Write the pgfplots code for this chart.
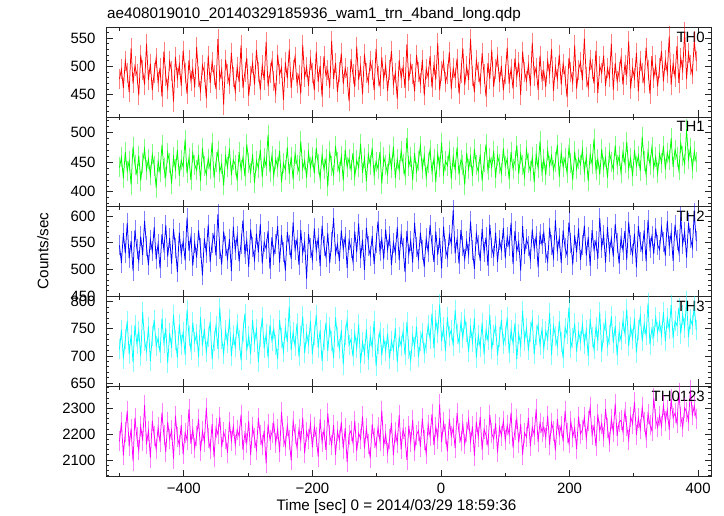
\documentclass[border=0pt]{standalone}
\usepackage{fontspec}
\setmainfont{Liberation Sans}
\usepackage{pgfplots}
\usepackage{pgfplotstable}
\pgfplotsset{compat=1.18}
\definecolor{czero}{rgb}{1,0,0}
\definecolor{cone}{rgb}{0,1,0}
\definecolor{ctwo}{rgb}{0,0,1}
\definecolor{cthree}{rgb}{0,1,1}
\definecolor{call}{rgb}{1,0,1}

\pgfplotstableread[row sep=\\]{y\\
478\\495\\462\\510\\488\\455\\532\\470\\501\\486\\449\\520\\493\\468\\540\\476\\505\\458\\489\\515\\
472\\498\\447\\526\\483\\461\\509\\492\\438\\517\\480\\503\\466\\528\\489\\452\\511\\475\\496\\463\\
534\\481\\457\\502\\490\\444\\519\\471\\508\\485\\460\\548\\477\\495\\433\\512\\487\\469\\524\\481\\
456\\499\\473\\537\\462\\490\\515\\448\\483\\506\\468\\529\\491\\459\\502\\476\\543\\465\\488\\510\\
474\\453\\521\\486\\498\\441\\507\\479\\530\\462\\494\\517\\470\\485\\452\\538\\481\\499\\466\\512\\
489\\458\\526\\473\\501\\447\\518\\484\\493\\462\\545\\478\\506\\455\\490\\523\\469\\497\\481\\439\\
513\\487\\464\\535\\476\\500\\451\\522\\488\\471\\509\\494\\459\\531\\483\\466\\516\\478\\502\\457\\
494\\527\\468\\489\\443\\511\\480\\499\\462\\539\\475\\505\\487\\456\\520\\491\\470\\512\\449\\496\\
481\\518\\463\\503\\477\\541\\458\\492\\509\\472\\486\\525\\460\\497\\480\\514\\452\\489\\532\\467\\
500\\476\\548\\483\\455\\511\\490\\469\\523\\486\\447\\506\\478\\529\\464\\495\\517\\473\\501\\458\\
487\\533\\470\\496\\461\\514\\482\\507\\450\\526\\491\\475\\503\\466\\542\\484\\498\\459\\519\\477\\
492\\464\\510\\486\\531\\457\\499\\478\\521\\468\\505\\483\\446\\515\\490\\472\\537\\461\\494\\508\\
476\\549\\482\\463\\512\\495\\470\\528\\453\\501\\488\\519\\466\\497\\481\\540\\459\\506\\474\\491\\
515\\468\\503\\485\\544\\461\\497\\479\\524\\456\\510\\489\\471\\533\\494\\452\\518\\480\\502\\465\\
498\\527\\474\\511\\489\\553\\468\\505\\482\\536\\471\\515\\493\\561\\478\\524\\502\\486\\545\\510\\
}\thzero

\pgfplotstableread[row sep=\\]{y\\
441\\458\\423\\467\\435\\452\\412\\476\\446\\430\\461\\419\\449\\472\\437\\455\\428\\463\\444\\407\\
451\\433\\479\\440\\425\\466\\448\\414\\459\\438\\470\\427\\453\\442\\488\\431\\457\\420\\465\\446\\
436\\462\\418\\474\\443\\429\\456\\439\\483\\424\\450\\468\\434\\447\\411\\460\\441\\473\\428\\454\\
445\\419\\467\\437\\458\\426\\480\\449\\432\\463\\415\\452\\440\\471\\425\\457\\443\\496\\433\\461\\
427\\455\\442\\469\\416\\448\\437\\475\\430\\459\\421\\464\\446\\435\\485\\439\\453\\424\\466\\441\\
458\\431\\474\\447\\422\\462\\438\\455\\409\\468\\444\\429\\477\\450\\434\\460\\419\\471\\442\\456\\
437\\465\\426\\453\\441\\481\\432\\457\\418\\463\\446\\474\\428\\451\\439\\467\\414\\458\\445\\430\\
462\\440\\476\\423\\455\\436\\469\\447\\428\\491\\443\\458\\420\\465\\434\\452\\478\\438\\461\\425\\
449\\471\\433\\456\\417\\464\\441\\483\\430\\452\\444\\468\\422\\459\\437\\475\\429\\454\\446\\412\\
466\\438\\459\\427\\472\\445\\434\\463\\419\\450\\480\\436\\457\\441\\469\\424\\461\\447\\431\\473\\
443\\456\\421\\467\\439\\452\\478\\430\\464\\445\\426\\471\\448\\435\\458\\416\\463\\440\\485\\433\\
455\\428\\470\\444\\461\\437\\451\\479\\425\\466\\442\\457\\432\\474\\449\\420\\468\\438\\456\\446\\
471\\434\\459\\418\\463\\447\\489\\436\\455\\429\\472\\441\\458\\424\\466\\451\\437\\478\\445\\460\\
432\\467\\448\\484\\439\\457\\426\\470\\444\\461\\435\\493\\452\\429\\468\\446\\475\\440\\459\\431\\
464\\449\\477\\438\\466\\453\\490\\442\\471\\458\\436\\482\\461\\447\\505\\455\\473\\439\\468\\450\\
}\thone

\pgfplotstableread[row sep=\\]{y\\
545\\512\\568\\530\\587\\521\\553\\498\\574\\539\\516\\562\\527\\591\\543\\508\\556\\534\\579\\519\\
548\\502\\566\\537\\583\\524\\559\\511\\576\\541\\495\\569\\528\\553\\517\\597\\535\\561\\507\\550\\
522\\573\\540\\489\\558\\531\\584\\514\\549\\566\\526\\603\\538\\509\\571\\544\\520\\557\\497\\580\\
536\\563\\515\\548\\592\\529\\554\\505\\575\\542\\518\\567\\532\\585\\511\\551\\539\\572\\501\\560\\
527\\547\\581\\513\\564\\533\\498\\570\\545\\520\\588\\537\\556\\509\\574\\530\\552\\483\\566\\541\\
518\\577\\535\\559\\506\\582\\543\\524\\568\\512\\551\\596\\529\\547\\516\\573\\538\\561\\503\\555\\
540\\515\\571\\532\\586\\521\\556\\499\\578\\544\\526\\563\\510\\549\\590\\534\\557\\519\\575\\537\\
562\\508\\550\\531\\579\\517\\566\\540\\495\\572\\528\\554\\513\\587\\542\\520\\569\\536\\505\\558\\
533\\583\\546\\514\\571\\527\\559\\502\\580\\539\\523\\565\\548\\611\\530\\557\\511\\574\\543\\519\\
553\\528\\590\\537\\501\\567\\545\\516\\576\\532\\560\\507\\584\\541\\525\\569\\514\\555\\536\\578\\
521\\561\\543\\587\\510\\572\\534\\551\\498\\581\\529\\557\\544\\519\\575\\538\\562\\504\\566\\547\\
569\\531\\515\\578\\546\\523\\592\\535\\559\\512\\573\\540\\527\\588\\550\\509\\564\\532\\577\\518\\
545\\582\\526\\561\\507\\574\\537\\553\\520\\596\\541\\565\\513\\579\\533\\558\\524\\585\\549\\511\\
559\\536\\572\\518\\589\\545\\528\\567\\504\\581\\551\\534\\573\\515\\593\\540\\562\\529\\577\\546\\
537\\579\\552\\526\\591\\543\\568\\516\\584\\555\\532\\598\\547\\571\\522\\587\\559\\541\\606\\553\\
}\thtwo

\pgfplotstableread[row sep=\\]{y\\
712\\748\\695\\731\\764\\703\\739\\688\\757\\722\\746\\699\\781\\728\\709\\754\\691\\736\\767\\718\\
733\\706\\769\\724\\751\\687\\742\\715\\776\\729\\697\\758\\721\\744\\702\\785\\737\\711\\762\\726\\
741\\698\\772\\719\\750\\707\\735\\763\\694\\727\\756\\713\\789\\732\\704\\747\\723\\768\\700\\738\\
716\\759\\730\\692\\745\\778\\710\\737\\703\\766\\725\\749\\689\\734\\771\\714\\740\\697\\757\\728\\
749\\721\\694\\766\\733\\708\\752\\726\\791\\711\\744\\718\\760\\699\\736\\773\\705\\741\\722\\764\\
703\\738\\775\\715\\747\\690\\729\\761\\709\\753\\727\\696\\771\\735\\712\\748\\684\\739\\766\\720\\
731\\699\\742\\714\\758\\687\\726\\704\\749\\693\\736\\716\\764\\681\\722\\745\\701\\733\\709\\741\\
695\\728\\711\\751\\688\\734\\719\\745\\702\\762\\712\\691\\737\\716\\754\\698\\727\\743\\706\\724\\
757\\731\\778\\714\\766\\742\\795\\727\\753\\709\\771\\736\\748\\719\\784\\741\\724\\762\\733\\769\\
744\\708\\752\\725\\769\\697\\738\\716\\761\\703\\747\\729\\776\\712\\739\\755\\701\\734\\767\\722\\
736\\771\\705\\748\\723\\760\\694\\741\\717\\783\\728\\751\\710\\745\\766\\703\\739\\757\\720\\749\\
713\\746\\730\\779\\702\\755\\737\\718\\764\\726\\696\\752\\741\\789\\715\\733\\760\\708\\744\\727\\
758\\722\\747\\699\\768\\735\\712\\753\\728\\781\\707\\742\\765\\719\\738\\773\\724\\756\\701\\745\\
729\\765\\741\\786\\718\\754\\732\\769\\706\\748\\774\\727\\759\\738\\797\\721\\750\\736\\771\\744\\
762\\738\\781\\727\\770\\749\\794\\733\\764\\756\\789\\741\\776\\752\\801\\735\\768\\757\\792\\748\\
}\ththree

\pgfplotstableread[row sep=\\]{y\\
2172\\2245\\2118\\2207\\2290\\2153\\2221\\2096\\2264\\2188\\2137\\2231\\2175\\2312\\2160\\2214\\2109\\2252\\2193\\2142\\
2226\\2168\\2283\\2197\\2131\\2248\\2180\\2215\\2104\\2271\\2189\\2157\\2236\\2122\\2205\\2178\\2297\\2163\\2219\\2145\\
2194\\2258\\2135\\2212\\2171\\2302\\2186\\2143\\2239\\2110\\2224\\2199\\2267\\2150\\2207\\2183\\2128\\2246\\2174\\2230\\
2159\\2217\\2192\\2275\\2138\\2203\\2166\\2251\\2119\\2227\\2184\\2140\\2262\\2195\\2156\\2213\\2087\\2238\\2179\\2206\\
2242\\2165\\2220\\2131\\2286\\2190\\2154\\2233\\2177\\2099\\2250\\2201\\2147\\2218\\2173\\2264\\2126\\2209\\2182\\2240\\
2149\\2228\\2187\\2113\\2257\\2170\\2216\\2139\\2280\\2196\\2158\\2235\\2120\\2211\\2176\\2247\\2144\\2223\\2092\\2198\\
2213\\2167\\2252\\2134\\2204\\2181\\2269\\2145\\2222\\2162\\2107\\2238\\2186\\2151\\2226\\2174\\2291\\2155\\2200\\2128\\
2180\\2243\\2119\\2208\\2165\\2273\\2141\\2219\\2188\\2100\\2232\\2170\\2255\\2136\\2197\\2214\\2152\\2261\\2177\\2124\\
2237\\2191\\2278\\2158\\2229\\2183\\2315\\2169\\2246\\2201\\2133\\2259\\2192\\2224\\2146\\2281\\2205\\2173\\2240\\2160\\
2209\\2256\\2171\\2230\\2117\\2248\\2189\\2266\\2140\\2219\\2196\\2158\\2274\\2203\\2181\\2241\\2129\\2226\\2194\\2252\\
2176\\2234\\2199\\2283\\2148\\2215\\2257\\2167\\2239\\2121\\2205\\2188\\2263\\2153\\2227\\2198\\2296\\2170\\2243\\2210\\
2228\\2186\\2271\\2159\\2244\\2212\\2137\\2258\\2195\\2233\\2172\\2289\\2206\\2164\\2250\\2190\\2225\\2143\\2268\\2201\\
2217\\2265\\2182\\2249\\2303\\2196\\2232\\2154\\2276\\2213\\2241\\2187\\2297\\2222\\2168\\2259\\2207\\2318\\2193\\2246\\
2254\\2209\\2287\\2231\\2178\\2268\\2240\\2325\\2197\\2262\\2219\\2304\\2245\\2185\\2279\\2236\\2213\\2340\\2257\\2226\\
2272\\2230\\2311\\2249\\2294\\2217\\2336\\2263\\2281\\2242\\2359\\2268\\2226\\2302\\2285\\2251\\2371\\2274\\2309\\2260\\
}\thall

\pgfplotsset{
  panel/.style={
    scale only axis, width=605bp, height=89.7bp, anchor=north west,
    xmin=-521, xmax=420,
    xtick={-400,-200,0,200,400}, minor xtick={-500,-300,-100,100,300},
    xticklabels={},
    tick align=inside,
    major tick length=6.5bp, minor tick length=3.3bp,
    axis line style={line width=0.9bp, black!85},
    tick style={black!85, line width=0.8bp},
    tick label style={font=\fontsize{15}{18}\selectfont},
    /pgf/number format/assume math mode=true,
    /pgf/number format/1000 sep={},
    yticklabel style={inner sep=0pt, xshift=-10.3bp},
    xticklabel style={inner sep=0pt, yshift=-6.7bp},
    every axis plot/.append style={line width=0.75bp},
  },
  lc/.style={draw=#1, mark=|, mark size=10bp,
    mark options={solid, draw=#1, opacity=0.5, line width=0.7bp}},
}
\tikzset{
  thlabel/.style={anchor=north east, inner sep=0pt, font=\fontsize{15}{18}\selectfont, xshift=-6bp, yshift=-4.4bp},
}

\begin{document}
\begin{tikzpicture}
\useasboundingbox (0,0) rectangle (724bp,516bp);

\begin{axis}[panel, at={(106bp,488.7bp)}, ymin=411, ymax=569,
  ytick={450,500,550}, minor ytick={420,430,...,560}]
\addplot[lc=czero] table[x expr=\coordindex*3-500, y=y]{\thzero};
\node[thlabel] at (rel axis cs:1,1) {TH0};
\end{axis}

\begin{axis}[panel, at={(106bp,399bp)}, ymin=375, ymax=526,
  ytick={400,450,500}, minor ytick={380,390,...,520}]
\addplot[lc=cone] table[x expr=\coordindex*3-500, y=y]{\thone};
\node[thlabel] at (rel axis cs:1,1) {TH1};
\end{axis}

\begin{axis}[panel, at={(106bp,309.3bp)}, ymin=449.5, ymax=617.5,
  ytick={450,500,550,600}, minor ytick={460,470,...,610}]
\addplot[lc=ctwo] table[x expr=\coordindex*3-500, y=y]{\thtwo};
\node[thlabel] at (rel axis cs:1,1) {TH2};
\end{axis}

\begin{axis}[panel, at={(106bp,219.7bp)}, ymin=644.5, ymax=810,
  ytick={650,700,750,800}, minor ytick={650,660,...,800}]
\addplot[lc=cthree] table[x expr=\coordindex*3-500, y=y]{\ththree};
\node[thlabel] at (rel axis cs:1,1) {TH3};
\end{axis}

\begin{axis}[panel, at={(106bp,129.7bp)}, ymin=2038, ymax=2385,
  ytick={2100,2200,2300}, minor ytick={2040,2060,...,2380},
  xticklabels={−400,−200,0,200,400}]
\addplot[lc=call] table[x expr=\coordindex*3-500, y=y]{\thall};
\node[thlabel] at (rel axis cs:1,1) {TH0123};
\end{axis}

\node[anchor=base west, inner sep=0pt, font=\fontsize{15.3}{18}\selectfont] at (107bp,497bp) {ae408019010\_20140329185936\_wam1\_trn\_4band\_long.qdp};
\node[anchor=base, inner sep=0pt, font=\fontsize{15.3}{18}\selectfont] at (396.5bp,6bp) {Time [sec] 0 = 2014/03/29 18:59:36};
\node[rotate=90, inner sep=0pt, font=\fontsize{15.3}{18}\selectfont] at (43bp,265bp) {Counts/sec};
\end{tikzpicture}
\end{document}
